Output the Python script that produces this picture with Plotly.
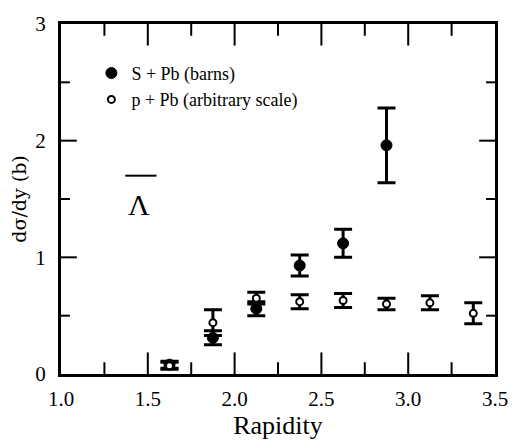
import plotly.graph_objects as go

# Data (rapidity bin centres, dsigma/dy values and errors)
rap_s = [1.625, 1.875, 2.125, 2.375, 2.625, 2.875]
val_s = [0.08, 0.31, 0.56, 0.93, 1.12, 1.96]
err_s = [0.03, 0.06, 0.06, 0.09, 0.12, 0.32]

rap_p = [1.625, 1.875, 2.125, 2.375, 2.625, 2.875, 3.125, 3.375]
val_p = [0.07, 0.44, 0.65, 0.62, 0.63, 0.60, 0.61, 0.52]
err_p = [0.03, 0.11, 0.05, 0.06, 0.06, 0.05, 0.06, 0.09]

names = ["S + Pb (barns)", "p + Pb (arbitrary scale)"]
x_range = [1.0, 3.5]
y_range = [0.0, 3.0]
x_major = [1.5, 2.0, 2.5, 3.0]
x_minor = [1.25, 1.75, 2.25, 2.75, 3.25]
y_major = [1.0, 2.0]
y_minor = [0.5, 1.5, 2.5]

serif = "Liberation Serif"
W, H = 520, 444
M = dict(l=61, r=20, t=17, b=70)
px_x = (W - M["l"] - M["r"]) / (x_range[1] - x_range[0])   # pixels per x unit
px_y = (H - M["t"] - M["b"]) / (y_range[1] - y_range[0])   # pixels per y unit

fig = go.Figure()

# inward tick marks drawn as line segments on the axes' own scales
tx, ty = [], []
for vals, ln in ((x_major, 22), (x_minor, 12)):
    d = ln / px_y
    for v in vals:
        tx += [v, v, None, v, v, None]
        ty += [y_range[0], y_range[0] + d, None, y_range[1], y_range[1] - d, None]
for vals, ln in ((y_major, 16), (y_minor, 9)):
    d = ln / px_x
    for v in vals:
        tx += [x_range[0], x_range[0] + d, None, x_range[1], x_range[1] - d, None]
        ty += [v, v, None, v, v, None]
fig.add_trace(go.Scatter(x=tx, y=ty, mode="lines", line=dict(color="black", width=2),
                         showlegend=False, hoverinfo="skip", cliponaxis=False))

fig.add_trace(go.Scatter(
    x=rap_s, y=val_s, mode="markers", name=names[0],
    marker=dict(symbol="circle", size=11, color="black", line=dict(color="black", width=1)),
    error_y=dict(type="data", array=err_s, color="black", thickness=3, width=9),
))
fig.add_trace(go.Scatter(
    x=rap_p, y=val_p, mode="markers", name=names[1],
    marker=dict(symbol="circle", size=7, color="white", line=dict(color="black", width=2)),
    error_y=dict(type="data", array=err_p, color="black", thickness=3, width=9),
))

fig.update_layout(
    xaxis=dict(
        range=x_range, dtick=0.5, tick0=1.0, tickformat=".1f", ticks="",
        showline=True, linecolor="black", linewidth=3, mirror=True,
        showgrid=False, zeroline=False,
        tickfont=dict(family=serif, size=21, color="black"),
        ticklabelstandoff=4,
        title=dict(text="Rapidity", font=dict(family=serif, size=26, color="black"), standoff=0),
    ),
    yaxis=dict(
        range=y_range, dtick=1, tick0=0, ticks="",
        showline=True, linecolor="black", linewidth=3, mirror=True,
        showgrid=False, zeroline=False,
        tickfont=dict(family=serif, size=21, color="black"),
        ticklabelstandoff=8,
        title=dict(text="dσ/dy (b)", font=dict(family="DejaVu Serif", size=19, color="black"), standoff=4),
    ),
)

fig.add_annotation(x=1.45, y=1.45, xref="x", yref="y", text="Λ", showarrow=False,
                   font=dict(family=serif, size=30, color="black"))
fig.add_shape(type="line", x0=1.37, x1=1.55, y0=1.70, y1=1.70, xref="x", yref="y",
              line=dict(color="black", width=2))

fig.update_layout(
    width=W, height=H,
    margin=M,
    paper_bgcolor="white", plot_bgcolor="white",
    showlegend=True,
    legend=dict(x=0.07, y=0.912, xanchor="left", yanchor="top",
                font=dict(family=serif, size=18, color="black"),
                bgcolor="rgba(0,0,0,0)", itemsizing="trace"),
)

fig.write_html("out.html")
